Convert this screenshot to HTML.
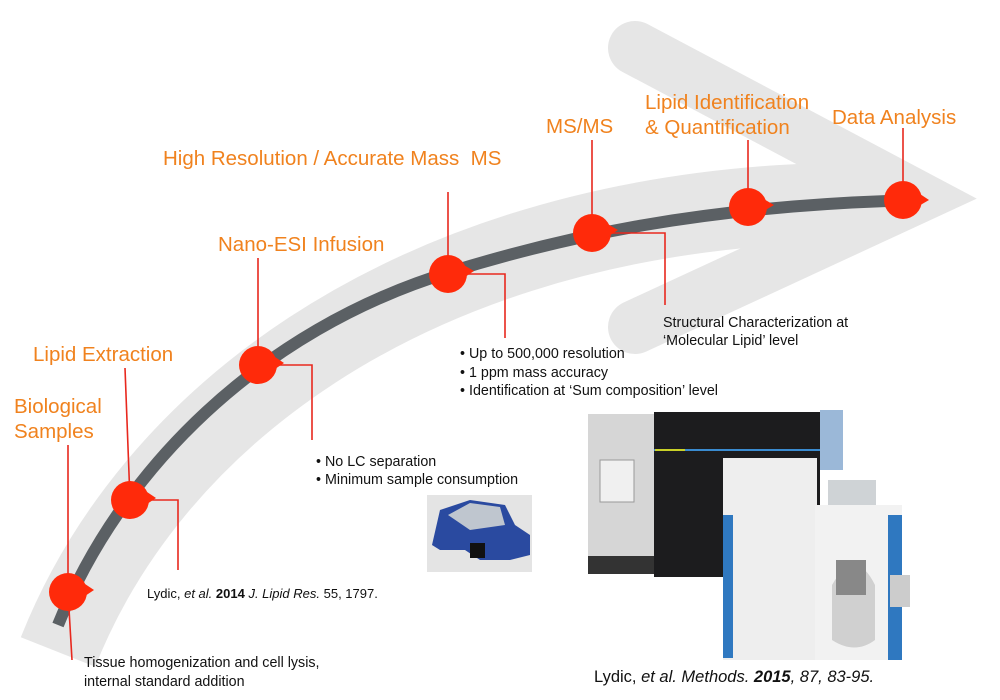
<!DOCTYPE html>
<html><head><meta charset="utf-8"><style>
html,body{margin:0;padding:0;background:#fff;}
svg{display:block;font-family:"Liberation Sans",Arial,sans-serif;}
.o{fill:#f0821e;font-size:20.5px;}
.b{fill:#111;font-size:14.3px;}
</style></head><body>
<svg width="1000" height="700" viewBox="0 0 1000 700">
<g>
 <path d="M58,652 C150,420 400,230 780,205 L855,201" fill="none" stroke="#e6e6e6" stroke-width="80"/>
 <polyline points="635,48 916,197 635,327" fill="none" stroke="#e6e6e6" stroke-width="54" stroke-linejoin="miter" stroke-miterlimit="10" stroke-linecap="round"/>
</g>
<path d="M58,625 C120,470 260,330 450,272 C560,238 700,205 920,200" fill="none" stroke="#5b6064" stroke-width="12"/>
<g stroke="#e8281e" stroke-width="1.6" fill="none">
 <path d="M68,445 V592 L72,660"/>
 <path d="M125,368 L130,500 H178 V570"/>
 <path d="M258,258 V365 H312 V440"/>
 <path d="M448,192 V274 H505 V338"/>
 <path d="M592,140 V233 H665 V305"/>
 <path d="M748,140 V207"/>
 <path d="M903,128 V200"/>
</g>
<g fill="#ff2a0a">
 <g><circle cx="68" cy="592" r="19"/><path d="M82,582 L94,590 L82,598Z"/></g>
 <g><circle cx="130" cy="500" r="19"/><path d="M144,490 L156,498 L144,506Z"/></g>
 <g><circle cx="258" cy="365" r="19"/><path d="M272,355 L284,363 L272,371Z"/></g>
 <g><circle cx="448" cy="274" r="19"/><path d="M462,264 L474,271 L462,279Z"/></g>
 <g><circle cx="592" cy="233" r="19"/><path d="M606,223 L618,230 L606,238Z"/></g>
 <g><circle cx="748" cy="207" r="19"/><path d="M762,198 L774,205 L762,212Z"/></g>
 <g><circle cx="903" cy="200" r="19"/><path d="M917,192 L929,200 L917,207Z"/></g>
</g>
<g>
 <text class="o" x="14" y="413">Biological</text>
 <text class="o" x="14" y="438">Samples</text>
 <text class="o" x="33" y="361">Lipid Extraction</text>
 <text class="o" x="218" y="251">Nano-ESI Infusion</text>
 <text class="o" x="163" y="165" xml:space="preserve">High Resolution / Accurate Mass  MS</text>
 <text class="o" x="546" y="133">MS/MS</text>
 <text class="o" x="645" y="109">Lipid Identification</text>
 <text class="o" x="645" y="134">&amp; Quantification</text>
 <text class="o" x="832" y="124">Data Analysis</text>
</g>
<g>
 <text class="b" x="84" y="667">Tissue homogenization and cell lysis,</text>
 <text class="b" x="84" y="686">internal standard addition</text>
 <text class="b" x="316" y="466">•  No LC separation</text>
 <text class="b" x="316" y="484">•  Minimum sample consumption</text>
 <text class="b" x="460" y="358">•  Up to 500,000 resolution</text>
 <text class="b" x="460" y="377">•  1 ppm mass accuracy</text>
 <text class="b" x="460" y="395">•  Identification at ‘Sum composition’ level</text>
 <text class="b" x="663" y="327">Structural Characterization at</text>
 <text class="b" x="663" y="345">‘Molecular Lipid’ level</text>
 <text class="b" x="147" y="598" style="font-size:13px">Lydic, <tspan font-style="italic">et al.</tspan> <tspan font-weight="bold">2014</tspan> <tspan font-style="italic">J. Lipid Res.</tspan> 55, 1797.</text>
 <text class="b" x="594" y="682" style="font-size:16.5px">Lydic, <tspan font-style="italic">et al. Methods.</tspan> <tspan font-weight="bold" font-style="italic">2015</tspan><tspan font-style="italic">, 87, 83-95.</tspan></text>
</g>
<g>
 <rect x="427" y="495" width="105" height="77" fill="#e4e4e4"/>
 <path d="M432,545 L440,510 L470,500 L505,505 L515,525 L530,535 L530,555 L510,560 L480,560 L465,550 L440,550Z" fill="#2a4aa0"/>
 <path d="M448,515 L470,503 L500,507 L505,525 L470,530Z" fill="#bfc6cf"/>
 <rect x="470" y="543" width="15" height="15" fill="#111"/>
</g>
<g>
 <rect x="588" y="414" width="66" height="160" fill="#d6d6d6"/>
 <rect x="654" y="412" width="166" height="165" fill="#1c1c1e"/>
 <rect x="654" y="449" width="166" height="2" fill="#3a8bd0"/>
 <rect x="655" y="449" width="30" height="2" fill="#c8d028"/>
 <rect x="820" y="410" width="23" height="60" fill="#9bb8d8"/>
 <rect x="600" y="460" width="34" height="42" fill="#f0f0f0" stroke="#999"/>
 <rect x="588" y="556" width="66" height="18" fill="#333"/>
 <rect x="723" y="458" width="94" height="202" fill="#eeeeee"/>
 <rect x="723" y="515" width="10" height="143" fill="#2f78c0"/>
 <rect x="815" y="505" width="87" height="155" fill="#f2f2f2"/>
 <rect x="888" y="515" width="14" height="145" fill="#2f78c0"/>
 <rect x="828" y="480" width="48" height="25" fill="#cfd3d6"/>
 <path d="M832,585 Q855,545 875,585 V640 Q855,655 832,640Z" fill="#d0d0d0"/>
 <rect x="836" y="560" width="30" height="35" fill="#888"/>
 <rect x="890" y="575" width="20" height="32" fill="#ccc"/>
</g>
</svg>
</body></html>
